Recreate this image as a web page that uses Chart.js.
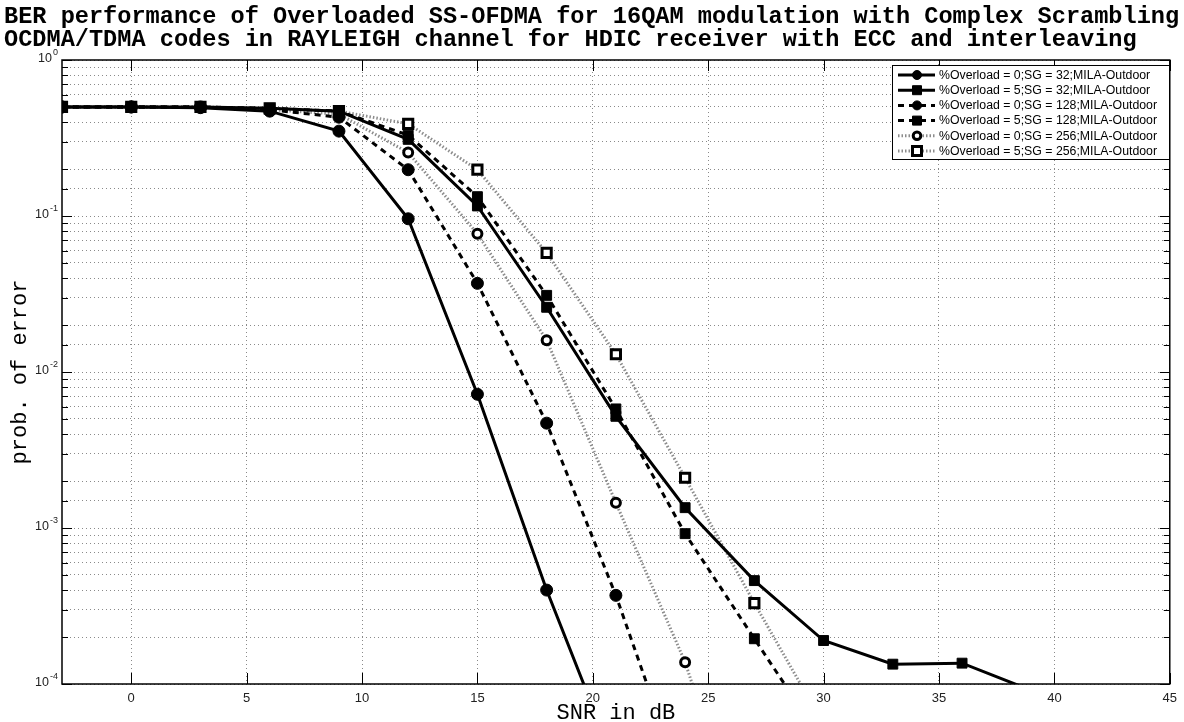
<!DOCTYPE html>
<html>
<head>
<meta charset="utf-8">
<script src="https://cdn.jsdelivr.net/npm/chart.js@4.4.0/dist/chart.umd.min.js"></script>
<style>
  html, body { margin: 0; padding: 0; background: #fff; }
  #wrap { width: 1184px; height: 722px; }
</style>
</head>
<body>
<div id="wrap"><canvas id="berChart" width="1184" height="722"></canvas></div>
<script>
// SNR points (dB)
const snr = [-3, 0, 3, 6, 9, 12, 15, 18, 21, 24, 27, 30, 33, 36, 39];

// BER
const berOv0Sg32  = [0.5, 0.5, 0.495, 0.47, 0.35, 0.096, 0.0072, 0.0004, 0.00003];
const berOv5Sg32  = [0.5, 0.5, 0.5, 0.49, 0.47, 0.31, 0.116, 0.026, 0.0052, 0.00135, 0.00046, 0.00019, 0.000134, 0.000136, 0.000091];
const berOv0Sg128 = [0.5, 0.5, 0.5, 0.48, 0.43, 0.198, 0.037, 0.0047, 0.00037, 0.00002];
const berOv5Sg128 = [0.5, 0.5, 0.5, 0.49, 0.47, 0.33, 0.133, 0.031, 0.0058, 0.00092, 0.000195, 0.000042];
const berOv0Sg256 = [0.5, 0.5, 0.5, 0.48, 0.45, 0.255, 0.077, 0.016, 0.00145, 0.000138, 0.000006];
const berOv5Sg256 = [0.5, 0.5, 0.5, 0.49, 0.47, 0.39, 0.198, 0.058, 0.013, 0.0021, 0.00033, 0.000055];

const seriesLabels = [
    '%Overload = 0;SG = 32;MILA-Outdoor',
    '%Overload = 5;SG = 32;MILA-Outdoor',
    '%Overload = 0;SG = 128;MILA-Outdoor',
    '%Overload = 5;SG = 128;MILA-Outdoor',
    '%Overload = 0;SG = 256;MILA-Outdoor',
    '%Overload = 5;SG = 256;MILA-Outdoor'
];
const xTicks = [0, 5, 10, 15, 20, 25, 30, 35, 40, 45];
const yDecades = [1, 0.1, 0.01, 0.001, 0.0001];
const yExponents = ['0', '-1', '-2', '-3', '-4'];
const titleLines = [
    'BER performance of Overloaded SS-OFDMA for 16QAM modulation with Complex Scrambling',
    'OCDMA/TDMA codes in RAYLEIGH channel for HDIC receiver with ECC and interleaving'
];

const toPoints = arr => arr.map((v, i) => ({ x: snr[i], y: v }));

const solid = [], dashed = [6, 5], dotted = [1.5, 2];
function ds(label, data, dash, lineColor, style, filled, r) {
    return {
        label, data: toPoints(data),
        borderColor: lineColor, borderWidth: 3, borderDash: dash,
        pointStyle: style, pointRadius: r, pointHoverRadius: r,
        pointBorderColor: '#000', pointBorderWidth: filled ? 1 : 3,
        pointBackgroundColor: filled ? '#000' : '#fff',
        tension: 0, fill: false
    };
}

const MONO = "'Liberation Mono', 'Courier New', monospace";
const SANS = "'Liberation Sans', Arial, sans-serif";

// title, y labels with superscripts, inward ticks, full box and legend
const frame = {
    id: 'frame',
    afterDraw(chart) {
        const { ctx, chartArea: a, scales } = chart;
        ctx.save();
        // title, left aligned like the source
        ctx.fillStyle = '#000';
        ctx.font = 'bold 23.6px ' + MONO;
        ctx.textBaseline = 'middle';
        ctx.textAlign = 'left';
        titleLines.forEach((t, i) => ctx.fillText(t, 4, 17 + i * 23));

        // y decade labels
        ctx.fillStyle = '#222';
        yDecades.forEach((v, i) => {
            const py = scales.y.getPixelForValue(v);
            ctx.font = '9px ' + SANS;
            const ew = ctx.measureText(yExponents[i]).width;
            ctx.textAlign = 'left';
            ctx.fillText(yExponents[i], a.left - 4 - ew, py - 7);
            ctx.font = '12.5px ' + SANS;
            ctx.textAlign = 'right';
            ctx.fillText('10', a.left - 5 - ew, py - 1);
        });
        ctx.restore();
    },
    afterDatasetsDraw(chart) {
        const { ctx, chartArea: a, scales } = chart;
        ctx.save();
        ctx.strokeStyle = '#000';
        ctx.lineWidth = 1;
        ctx.setLineDash([]);
        ctx.beginPath();
        scales.x.ticks.forEach(t => {
            const px = Math.round(scales.x.getPixelForValue(t.value)) + 0.5;
            ctx.moveTo(px, a.bottom); ctx.lineTo(px, a.bottom - 11);
            ctx.moveTo(px, a.top); ctx.lineTo(px, a.top + 11);
        });
        scales.y.ticks.forEach(t => {
            const py = Math.round(scales.y.getPixelForValue(t.value)) + 0.5;
            const len = yDecades.includes(t.value) ? 10 : 6;
            ctx.moveTo(a.left, py); ctx.lineTo(a.left + len, py);
            ctx.moveTo(a.right, py); ctx.lineTo(a.right - len, py);
        });
        ctx.stroke();
        ctx.lineWidth = 1.5;
        ctx.strokeRect(a.left, a.top, a.right - a.left, a.bottom - a.top);

        // legend
        const lx = 892, ly = 65, lw = 277, lh = 94;
        ctx.fillStyle = '#fff';
        ctx.fillRect(lx, ly, lw, lh);
        ctx.lineWidth = 1;
        ctx.strokeRect(lx + 0.5, ly + 0.5, lw, lh);
        ctx.font = '12.3px ' + SANS;
        ctx.textBaseline = 'middle';
        chart.data.datasets.forEach((d, i) => {
            const y = ly + 10 + i * 15.2;
            ctx.strokeStyle = d.borderColor;
            ctx.lineWidth = 3;
            ctx.setLineDash(d.borderDash);
            ctx.beginPath();
            ctx.moveTo(898, y); ctx.lineTo(935, y);
            ctx.stroke();
            ctx.setLineDash([]);
            ctx.fillStyle = d.pointBackgroundColor;
            ctx.strokeStyle = '#000';
            ctx.lineWidth = d.pointBorderWidth;
            ctx.beginPath();
            if (d.pointStyle === 'circle') ctx.arc(917, y, d.pointBackgroundColor === '#000' ? 4.5 : 3.8, 0, Math.PI * 2);
            else ctx.rect(912.5, y - 4.5, 9, 9);
            ctx.fill(); ctx.stroke();
            ctx.fillStyle = '#000';
            ctx.fillText(d.label, 939, y + 0.5);
        });
        ctx.restore();
    }
};

new Chart(document.getElementById('berChart'), {
    type: 'line',
    data: {
        datasets: [
            ds(seriesLabels[0], berOv0Sg32, solid, '#000', 'circle', true, 6),
            ds(seriesLabels[1], berOv5Sg32, solid, '#000', 'rect', true, 7),
            ds(seriesLabels[2], berOv0Sg128, dashed, '#000', 'circle', true, 6),
            ds(seriesLabels[3], berOv5Sg128, dashed, '#000', 'rect', true, 7),
            ds(seriesLabels[4], berOv0Sg256, dotted, '#8c8c8c', 'circle', false, 4.5),
            ds(seriesLabels[5], berOv5Sg256, dotted, '#8c8c8c', 'rect', false, 6.5)
        ]
    },
    options: {
        responsive: false,
        devicePixelRatio: 1,
        animation: false,
        layout: { padding: { left: 0, right: 12, top: 60, bottom: 0 } },
        plugins: {
            legend: { display: false },
            tooltip: { enabled: false },
            title: { display: false }
        },
        scales: {
            x: {
                type: 'linear',
                min: -3, max: 45,
                afterBuildTicks: s => { s.ticks = xTicks.map(v => ({ value: v })); },
                afterFit: s => { s.height = 38; },
                grid: { color: '#8a8a8a', lineWidth: 1, drawTicks: false },
                border: { display: false, dash: [1, 3] },
                ticks: { color: '#222', padding: 7, maxRotation: 0, font: { family: SANS, size: 13 } },
                title: {
                    display: true, text: 'SNR in dB', color: '#000',
                    font: { family: MONO, size: 22, lineHeight: 18 / 22 },
                    padding: { top: 0, bottom: 0 }
                }
            },
            y: {
                type: 'logarithmic',
                min: 0.0001, max: 1,
                afterFit: s => { s.width = 62; },
                grid: { color: '#8a8a8a', lineWidth: 1, drawTicks: false },
                border: { display: false, dash: [1, 3] },
                ticks: { autoSkip: false, callback: () => '' },
                title: {
                    display: true, text: 'prob. of error', color: '#000',
                    font: { family: MONO, size: 22, lineHeight: 1 },
                    padding: { top: 9, bottom: 0 }
                }
            }
        }
    },
    plugins: [frame]
});
</script>
</body>
</html>
